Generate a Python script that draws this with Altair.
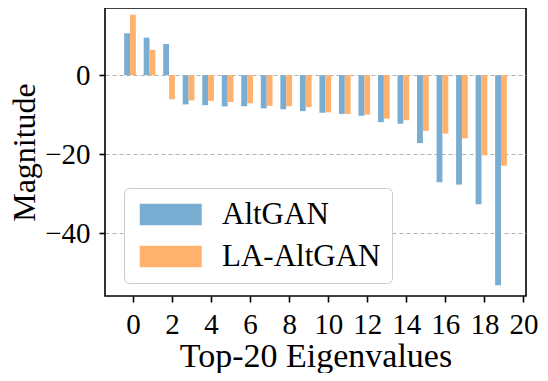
import altair as alt
import pandas as pd

eigen_idx = list(range(20))
altgan = [10.6, 9.5, 7.9, -7.4, -7.6, -7.9, -7.9, -8.4, -8.6, -9.1,
          -9.5, -9.8, -10.3, -11.9, -12.3, -17.2, -27.1, -27.7, -32.7, -53.2]
la_altgan = [15.3, 6.4, -6.1, -6.4, -6.5, -6.8, -7.1, -7.8, -7.9, -8.1,
             -9.4, -9.8, -10.0, -11.0, -11.4, -14.1, -14.8, -16.0, -20.3, -22.9]
series_names = ["AltGAN", "LA-AltGAN"]
series_colors = ["#79ADD2", "#FFB26E"]
x_ticks = list(range(0, 21, 2))
y_ticks = [0, -20, -40]

rows = []
for i, v in zip(eigen_idx, altgan):
    rows.append({"idx": i, "value": v, "series": "AltGAN", "shift": -0.3})
for i, v in zip(eigen_idx, la_altgan):
    rows.append({"idx": i, "value": v, "series": "LA-AltGAN", "shift": 0.0})
df = pd.DataFrame(rows)

FONT = "Liberation Serif"

# wide legend patch: scaled by sqrt(size)/2 = 10.75 px -> 62 x 21.5 px
legend_path = "M-1,-1L4.767,-1L4.767,1L-1,1Z"

chart = alt.Chart(df).transform_calculate(
    x0="datum.idx + datum.shift - 0.15",
    x1="datum.idx + datum.shift + 0.15",
    zero="0",
).mark_bar(stroke=None).encode(
    x=alt.X("x0:Q",
            scale=alt.Scale(domain=[-1.43, 20.13], nice=False, zero=False),
            axis=alt.Axis(values=x_ticks, title="Top-20 Eigenvalues", grid=False,
                          titleY=70, titleBaseline="alphabetic", titleFontSize=34,
                          labelPadding=8)),
    x2="x1:Q",
    y=alt.Y("value:Q",
            scale=alt.Scale(domain=[-55.9, 17.0], nice=False, zero=False),
            axis=alt.Axis(values=y_ticks, title="Magnitude", grid=True,
                          gridDash=[4, 3], gridColor="#b0b0b0", gridWidth=1,
                          titleX=-71, titleY=144, titleBaseline="alphabetic",
                          titleAngle=270, titleFontSize=32)),
    y2="zero:Q",
    color=alt.Color("series:N",
                    scale=alt.Scale(domain=series_names, range=series_colors),
                    legend=alt.Legend(title=None, orient="none", legendX=19, legendY=180,
                                      symbolType=legend_path, symbolSize=462,
                                      symbolStrokeWidth=0, labelFontSize=31,
                                      labelFont=FONT, labelColor="black",
                                      labelOffset=56, rowPadding=10, padding=11,
                                      strokeColor="#cccccc", cornerRadius=5,
                                      fillColor="white")),
).properties(
    width=421, height=288,
    padding={"left": 97, "top": 0, "right": 14, "bottom": 77},
    autosize=alt.AutoSizeParams(type="none"),
).configure_view(
    stroke="black", strokeWidth=1.6
).configure_axis(
    domain=False, ticks=True, tickColor="black", tickWidth=1.6, tickSize=6,
    labelFont=FONT, labelFontSize=29, labelColor="black", labelPadding=9,
    titleFont=FONT, titleColor="black", titleFontWeight="normal",
)

chart.save("out.html", embed_options={"renderer": "svg", "actions": False})
